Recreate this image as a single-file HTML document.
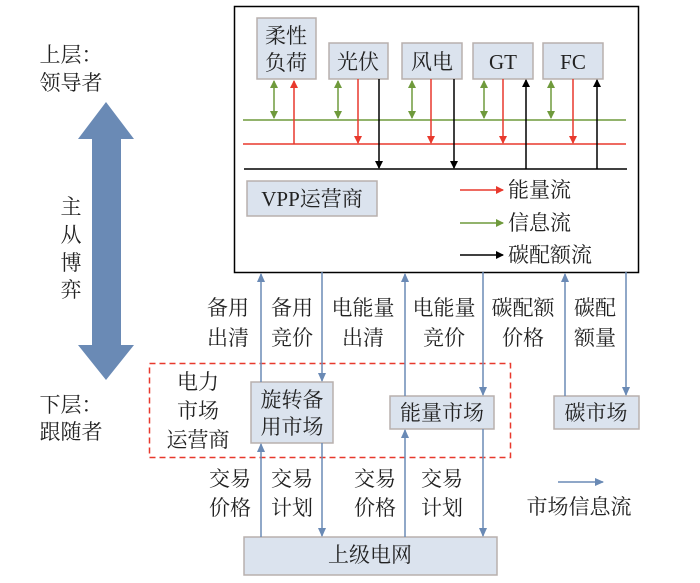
<!DOCTYPE html>
<html><head><meta charset="utf-8"><style>
html,body{margin:0;padding:0;background:#fff}
svg text{font-family:"Liberation Serif","Noto Serif CJK SC","Noto Sans CJK SC",serif;font-size:21px;fill:#222}
</style></head><body>
<svg width="700" height="578" viewBox="0 0 700 578" xmlns="http://www.w3.org/2000/svg">
<defs>
<marker id="r" markerWidth="8" markerHeight="8" refX="7" refY="4" orient="auto" markerUnits="userSpaceOnUse"><path d="M0,0L8,4L0,8z" fill="#e8392d"/></marker>
<marker id="g" markerWidth="8" markerHeight="8" refX="7" refY="4" orient="auto-start-reverse" markerUnits="userSpaceOnUse"><path d="M0,0L8,4L0,8z" fill="#6f9a3c"/></marker>
<marker id="k" markerWidth="8" markerHeight="8" refX="7" refY="4" orient="auto" markerUnits="userSpaceOnUse"><path d="M0,0L8,4L0,8z" fill="#000"/></marker>
<marker id="b" markerWidth="9" markerHeight="8" refX="8" refY="4" orient="auto" markerUnits="userSpaceOnUse"><path d="M0,0L9,4L0,8z" fill="#6a8ab5"/></marker>
</defs>
<!-- left -->
<text x="71" y="62" text-anchor="middle">上层：</text>
<text x="71" y="90" text-anchor="middle">领导者</text>
<path d="M106,102 L134,139 L121,139 L121,345 L134,345 L106,380 L78,345 L92,345 L92,139 L78,139 Z" fill="#6a8ab5"/>
<text x="71" y="214" text-anchor="middle">主</text>
<text x="71" y="242" text-anchor="middle">从</text>
<text x="71" y="270" text-anchor="middle">博</text>
<text x="71" y="297" text-anchor="middle">弈</text>
<text x="71" y="412" text-anchor="middle">下层：</text>
<text x="71" y="439" text-anchor="middle">跟随者</text>
<!-- main box -->
<rect x="234.5" y="6.5" width="404" height="266" fill="#fff" stroke="#000" stroke-width="1.5"/>
<g fill="#dbe3ee" stroke="#b8b0ad" stroke-width="1.5">
<rect x="257" y="18" width="59" height="61"/>
<rect x="329" y="43" width="59" height="36"/>
<rect x="402" y="43" width="60" height="36"/>
<rect x="473" y="43" width="60" height="36"/>
<rect x="543" y="43" width="60" height="36"/>
<rect x="247" y="181" width="130" height="35"/>
</g>
<text x="286" y="43" text-anchor="middle">柔性</text>
<text x="286" y="70" text-anchor="middle">负荷</text>
<text x="358" y="69" text-anchor="middle">光伏</text>
<text x="432" y="69" text-anchor="middle">风电</text>
<text x="503" y="69" text-anchor="middle">GT</text>
<text x="573" y="69" text-anchor="middle">FC</text>
<text x="312" y="206" text-anchor="middle">VPP运营商</text>
<line x1="243" y1="120" x2="626" y2="120" stroke="#6f9a3c" stroke-width="1.5"/>
<line x1="243" y1="144" x2="626" y2="144" stroke="#e8392d" stroke-width="1.5"/>
<line x1="244" y1="169" x2="627" y2="169" stroke="#000" stroke-width="1.5"/>
<g stroke="#6f9a3c" stroke-width="1.5">
<line x1="274" y1="81" x2="274" y2="118" marker-start="url(#g)" marker-end="url(#g)"/>
<line x1="338" y1="81" x2="338" y2="118" marker-start="url(#g)" marker-end="url(#g)"/>
<line x1="412" y1="81" x2="412" y2="118" marker-start="url(#g)" marker-end="url(#g)"/>
<line x1="484" y1="81" x2="484" y2="118" marker-start="url(#g)" marker-end="url(#g)"/>
<line x1="551" y1="81" x2="551" y2="118" marker-start="url(#g)" marker-end="url(#g)"/>
</g>
<g stroke="#e8392d" stroke-width="1.5">
<line x1="294" y1="144" x2="294" y2="81" marker-end="url(#r)"/>
<line x1="358" y1="79" x2="358" y2="143" marker-end="url(#r)"/>
<line x1="431" y1="79" x2="431" y2="143" marker-end="url(#r)"/>
<line x1="503" y1="79" x2="503" y2="143" marker-end="url(#r)"/>
<line x1="573" y1="79" x2="573" y2="143" marker-end="url(#r)"/>
<line x1="460" y1="190" x2="503" y2="190" marker-end="url(#r)"/>
</g>
<line x1="460" y1="223" x2="503" y2="223" stroke="#6f9a3c" stroke-width="1.5" marker-end="url(#g)"/>
<g stroke="#000" stroke-width="1.5">
<line x1="379" y1="79" x2="379" y2="168" marker-end="url(#k)"/>
<line x1="454" y1="79" x2="454" y2="168" marker-end="url(#k)"/>
<line x1="526" y1="169" x2="526" y2="80" marker-end="url(#k)"/>
<line x1="597" y1="169" x2="597" y2="80" marker-end="url(#k)"/>
<line x1="460" y1="255" x2="503" y2="255" marker-end="url(#k)"/>
</g>
<text x="508" y="197">能量流</text>
<text x="508" y="230">信息流</text>
<text x="508" y="262">碳配额流</text>
<!-- markets -->
<rect x="149.5" y="363.5" width="361" height="94" fill="none" stroke="#e8392d" stroke-width="1.5" stroke-dasharray="6,4"/>
<g fill="#dbe3ee" stroke="#b8b0ad" stroke-width="1.5">
<rect x="251" y="382" width="82" height="61"/>
<rect x="390" y="396" width="104" height="33"/>
<rect x="554" y="396" width="85" height="33"/>
<rect x="244" y="537" width="253" height="38"/>
</g>
<text x="292" y="407" text-anchor="middle">旋转备</text>
<text x="292" y="434" text-anchor="middle">用市场</text>
<text x="442" y="420" text-anchor="middle">能量市场</text>
<text x="596" y="420" text-anchor="middle">碳市场</text>
<text x="370" y="562" text-anchor="middle">上级电网</text>
<text x="198" y="389" text-anchor="middle">电力</text>
<text x="198" y="418" text-anchor="middle">市场</text>
<text x="198" y="447" text-anchor="middle">运营商</text>
<g stroke="#6a8ab5" stroke-width="1.5">
<line x1="261" y1="382" x2="261" y2="274" marker-end="url(#b)"/>
<line x1="322" y1="272" x2="322" y2="381" marker-end="url(#b)"/>
<line x1="405" y1="396" x2="405" y2="274" marker-end="url(#b)"/>
<line x1="483" y1="272" x2="483" y2="395" marker-end="url(#b)"/>
<line x1="565" y1="396" x2="565" y2="274" marker-end="url(#b)"/>
<line x1="626" y1="272" x2="626" y2="395" marker-end="url(#b)"/>
<line x1="261" y1="537" x2="261" y2="444" marker-end="url(#b)"/>
<line x1="322" y1="443" x2="322" y2="536" marker-end="url(#b)"/>
<line x1="405" y1="537" x2="405" y2="430" marker-end="url(#b)"/>
<line x1="483" y1="429" x2="483" y2="536" marker-end="url(#b)"/>
<line x1="558" y1="482" x2="603" y2="482" marker-end="url(#b)"/>
</g>
<g text-anchor="middle">
<text x="228" y="315">备用</text><text x="228" y="345">出清</text>
<text x="292" y="315">备用</text><text x="292" y="345">竞价</text>
<text x="363" y="315">电能量</text><text x="363" y="345">出清</text>
<text x="444" y="315">电能量</text><text x="444" y="345">竞价</text>
<text x="523" y="315">碳配额</text><text x="523" y="345">价格</text>
<text x="595" y="315">碳配</text><text x="595" y="345">额量</text>
<text x="230" y="486">交易</text><text x="230" y="515">价格</text>
<text x="292" y="486">交易</text><text x="292" y="515">计划</text>
<text x="375" y="486">交易</text><text x="375" y="515">价格</text>
<text x="442" y="486">交易</text><text x="442" y="515">计划</text>
<text x="579" y="514">市场信息流</text>
</g>
</svg>
</body></html>
